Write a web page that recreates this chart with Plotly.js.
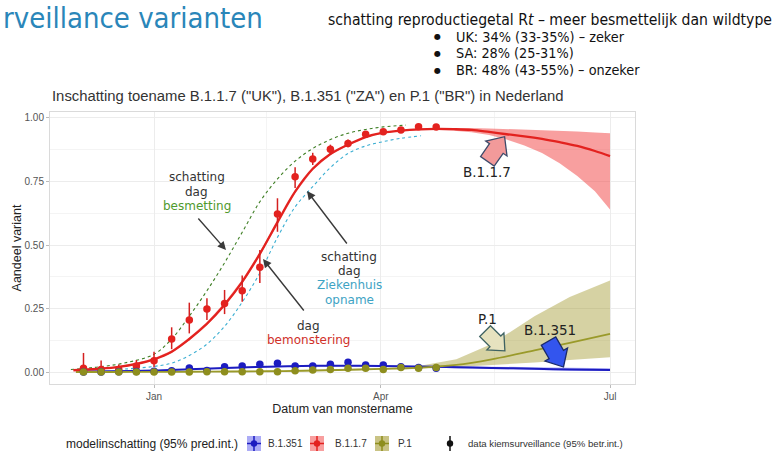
<!DOCTYPE html>
<html><head><meta charset="utf-8">
<script src="https://cdn.plot.ly/plotly-3.0.1.min.js"></script>
<style>html,body{margin:0;padding:0;background:#fff;}#chart{width:774px;height:457px;}</style>
</head><body><div id="chart"></div>
<script>
// ---- observed weekly data (kiemsurveillance) ----
const sampleDates = ['2020-12-04','2020-12-11','2020-12-18','2020-12-25','2021-01-01','2021-01-08','2021-01-15','2021-01-22','2021-01-29','2021-02-05','2021-02-12','2021-02-19','2021-02-26','2021-03-05','2021-03-12','2021-03-19','2021-03-26','2021-04-02','2021-04-09','2021-04-16','2021-04-23'];
const b117Obs = [0.015,0.010,0.010,0.024,0.044,0.130,0.205,0.248,0.270,0.320,0.412,0.622,0.769,0.839,0.877,0.900,0.936,0.946,0.953,0.966,0.965];
const b117Hi  = [0.075,0.045,0.030,0.047,0.080,0.176,0.273,0.290,0.323,0.380,0.480,0.684,0.806,0.863,0.895,0.915,0.945,0.955,0.962,0.972,0.972];
const b117Lo  = [0.000,0.000,0.000,0.010,0.020,0.090,0.152,0.205,0.228,0.277,0.350,0.552,0.724,0.815,0.855,0.885,0.925,0.937,0.944,0.958,0.957];
const b1351Obs = [0.000,0.000,0.001,0.002,0.003,0.005,0.016,0.006,0.021,0.024,0.031,0.034,0.024,0.024,0.031,0.038,0.028,0.028,0.021,0.018,0.015];
const b1351Hi  = [0.004,0.004,0.005,0.006,0.007,0.009,0.022,0.010,0.026,0.029,0.036,0.039,0.028,0.028,0.035,0.042,0.031,0.031,0.024,0.021,0.018];
const b1351Lo  = [0.000,0.000,0.000,0.000,0.000,0.002,0.011,0.003,0.016,0.019,0.026,0.029,0.020,0.020,0.027,0.034,0.025,0.025,0.018,0.015,0.012];
const p1Obs = [0,0,0,0,0,0,0,0.001,0.001,0.001,0.001,0.001,0.005,0.008,0.010,0.015,0.015,0.010,0.018,0.015,0.018];
const p1Hi  = [0.002,0.002,0.002,0.002,0.002,0.002,0.002,0.003,0.003,0.003,0.003,0.003,0.008,0.011,0.013,0.018,0.018,0.013,0.021,0.018,0.021];
const p1Lo  = [0,0,0,0,0,0,0,0,0,0,0,0,0.002,0.005,0.007,0.012,0.012,0.007,0.015,0.012,0.015];

// ---- model estimates (95% prediction interval) ----
const b117ModelDates = ['2020-11-30','2020-12-04','2020-12-11','2020-12-18','2020-12-25','2021-01-01','2021-01-08','2021-01-15','2021-01-22','2021-01-29','2021-02-05','2021-02-12','2021-02-19','2021-02-26','2021-03-05','2021-03-12','2021-03-19','2021-03-26','2021-04-02','2021-04-09','2021-04-16','2021-04-23','2021-04-30','2021-05-07','2021-05-14','2021-05-21','2021-05-28','2021-06-04','2021-06-11','2021-06-18','2021-06-25','2021-07-01'];
const b117Model   = [0.007,0.009,0.013,0.020,0.032,0.050,0.080,0.130,0.190,0.265,0.355,0.465,0.590,0.710,0.800,0.858,0.895,0.925,0.942,0.950,0.955,0.957,0.956,0.953,0.945,0.936,0.928,0.918,0.905,0.890,0.870,0.850];
const b117ModelHi = [0.009,0.011,0.015,0.023,0.035,0.054,0.085,0.136,0.197,0.273,0.363,0.473,0.597,0.716,0.805,0.862,0.898,0.927,0.944,0.952,0.958,0.961,0.962,0.961,0.959,0.957,0.955,0.952,0.950,0.947,0.943,0.940];
const b117ModelLo = [0.005,0.007,0.011,0.017,0.029,0.046,0.075,0.124,0.183,0.257,0.347,0.457,0.583,0.704,0.795,0.854,0.892,0.923,0.940,0.948,0.952,0.953,0.950,0.944,0.933,0.915,0.892,0.862,0.822,0.772,0.712,0.640];
const modelDates = ['2020-12-01','2020-12-15','2021-01-01','2021-01-15','2021-02-01','2021-02-15','2021-03-01','2021-03-15','2021-04-01','2021-04-15','2021-05-01','2021-05-15','2021-06-01','2021-06-15','2021-07-01'];
const b1351Model   = [0.002,0.003,0.006,0.011,0.017,0.021,0.024,0.025,0.024,0.022,0.019,0.016,0.013,0.010,0.008];
const b1351ModelHi = [0.003,0.005,0.008,0.013,0.019,0.023,0.026,0.027,0.026,0.025,0.023,0.021,0.019,0.017,0.015];
const b1351ModelLo = [0.001,0.002,0.004,0.009,0.015,0.019,0.022,0.023,0.022,0.019,0.015,0.011,0.008,0.005,0.004];
const p1Model   = [0.000,0.000,0.0005,0.001,0.002,0.003,0.005,0.008,0.012,0.016,0.028,0.050,0.085,0.115,0.150];
const p1ModelHi = [0.000,0.0005,0.001,0.002,0.003,0.005,0.007,0.010,0.015,0.022,0.050,0.110,0.220,0.295,0.360];
const p1ModelLo = [0.000,0.000,0.000,0.0005,0.001,0.002,0.003,0.006,0.009,0.012,0.020,0.027,0.037,0.047,0.058];

// ---- shifted B.1.1.7 curves: infection day / hospital admission day ----
const infectDates = ['2020-11-29','2020-12-10','2020-12-20','2021-01-01','2021-01-08','2021-01-15','2021-01-22','2021-01-29','2021-02-05','2021-02-12','2021-02-19','2021-02-26','2021-03-05','2021-03-12','2021-03-19','2021-03-26','2021-04-02','2021-04-11'];
const infectCurve = [0.010,0.020,0.035,0.070,0.130,0.220,0.320,0.430,0.550,0.670,0.760,0.830,0.880,0.915,0.940,0.955,0.965,0.972];
const hospDates = ['2020-12-18','2020-12-25','2021-01-01','2021-01-08','2021-01-15','2021-01-22','2021-01-29','2021-02-05','2021-02-12','2021-02-19','2021-02-26','2021-03-05','2021-03-12','2021-03-19','2021-03-26','2021-04-02','2021-04-09','2021-04-17'];
const hospCurve = [0.010,0.015,0.022,0.035,0.065,0.110,0.180,0.275,0.390,0.530,0.650,0.730,0.805,0.860,0.890,0.907,0.920,0.930];

const xTickVals = ['2021-01-01','2021-04-01','2021-07-01'];
const xTickText = ['Jan','Apr','Jul'];
const xMinorVals = ['2021-02-14 12:00','2021-05-16'];
const yTickVals = [0,0.25,0.5,0.75,1];
const yTickText = ['0.00','0.25','0.50','0.75','1.00'];
const yMinorVals = [0.125,0.375,0.625,0.875];

// ---- pixel -> paper helpers (plot area 50..635 x 112..384) ----
const PX = px => (px-50)/585;
const PY = py => (384-py)/272;

const C = {
  red:'#e3221f', redBand:'rgba(242,80,80,0.55)', redErr:'#d42020',
  blue:'#1c1cc0', blueBand:'rgba(70,70,235,0.45)',
  olive:'#8e8e1e', oliveLine:'#9a9a2a', oliveBand:'rgba(165,155,50,0.45)',
  green:'#3f7f25', cyan:'#3aaed2'
};

function band(x, lo, hi, fill){
  return [
    {x:x, y:lo, mode:'lines', line:{width:0}, hoverinfo:'skip', showlegend:false},
    {x:x, y:hi, mode:'lines', line:{width:0}, fill:'tonexty', fillcolor:fill, hoverinfo:'skip', showlegend:false}
  ];
}
function obs(y, hi, lo, color, ecolor){
  return {x:sampleDates, y:y, mode:'markers', showlegend:false,
    marker:{color:color, size:7.5},
    error_y:{type:'data', symmetric:false, array:hi.map((v,i)=>v-y[i]), arrayminus:y.map((v,i)=>v-lo[i]), width:0, thickness:1.5, color:ecolor}};
}

const traces = [
  ...band(b117ModelDates, b117ModelLo, b117ModelHi, C.redBand),
  ...band(modelDates, b1351ModelLo, b1351ModelHi, C.blueBand),
  ...band(modelDates, p1ModelLo, p1ModelHi, C.oliveBand),
  {x:infectDates, y:infectCurve, mode:'lines', line:{color:C.green, width:1.1, dash:'3px,3px', shape:'spline'}, showlegend:false},
  {x:hospDates, y:hospCurve, mode:'lines', line:{color:C.cyan, width:1.1, dash:'3px,3px', shape:'spline'}, showlegend:false},
  {x:modelDates, y:b1351Model, mode:'lines', line:{color:C.blue, width:2, shape:'spline'}, showlegend:false},
  {x:modelDates, y:p1Model, mode:'lines', line:{color:C.oliveLine, width:1.8, shape:'spline'}, showlegend:false},
  {x:b117ModelDates, y:b117Model, mode:'lines', line:{color:C.red, width:2.3, shape:'spline'}, showlegend:false},
  obs(b117Obs, b117Hi, b117Lo, C.red, C.redErr),
  obs(b1351Obs, b1351Hi, b1351Lo, C.blue, C.blue),
  obs(p1Obs, p1Hi, p1Lo, C.olive, C.olive)
];

function blockArrow(cx, cy, L, W, ang, fill, line){
  const hs=W*0.32, hh=W*0.5, hl=L*0.48;
  const pts=[[-L/2,-hs],[L/2-hl,-hs],[L/2-hl,-hh],[L/2,0],[L/2-hl,hh],[L/2-hl,hs],[-L/2,hs]];
  const a=ang*Math.PI/180, c=Math.cos(a), s=Math.sin(a);
  const path=pts.map((p,i)=>{const x=cx+p[0]*c-p[1]*s, y=cy+p[0]*s+p[1]*c; return (i?'L':'M')+PX(x).toFixed(4)+','+PY(y).toFixed(4);}).join('')+'Z';
  return {type:'path', xref:'paper', yref:'paper', path:path, fillcolor:fill, line:{color:line,width:1.3}, layer:'above'};
}

const shapes = [
  blockArrow(496,149,30,26,-55,'#f29a9a','#3d4a6a'),
  blockArrow(495,341,28,24,45,'#e6e2bf','#3e6262'),
  blockArrow(556,354,30,26,60,'#3355ee','#1a2a6a')
];
// manual legend glyphs
function legendGlyph(x0, fill, col, withBox){
  const g=[];
  if(withBox) g.push({type:'rect', xref:'paper', yref:'paper', x0:PX(x0), x1:PX(x0+14), y0:PY(451), y1:PY(436), fillcolor:fill, line:{width:0}});
  if(withBox) g.push({type:'line', xref:'paper', yref:'paper', x0:PX(x0), x1:PX(x0+14), y0:PY(443.5), y1:PY(443.5), line:{color:col,width:1.5}});
  g.push({type:'line', xref:'paper', yref:'paper', x0:PX(x0+7), x1:PX(x0+7), y0:PY(451), y1:PY(436), line:{color:col,width:1.5}});
  g.push({type:'circle', xref:'paper', yref:'paper', x0:PX(x0+3.8), x1:PX(x0+10.2), y0:PY(446.7), y1:PY(440.3), fillcolor:col, line:{width:0}});
  return g;
}
shapes.push(...legendGlyph(247, C.blueBand, C.blue, true));
shapes.push(...legendGlyph(310, C.redBand, C.red, true));
shapes.push(...legendGlyph(375, 'rgba(165,155,50,0.6)', C.olive, true));
shapes.push(...legendGlyph(443, null, '#111', false));

const AF = 'DejaVu Sans, Verdana, sans-serif';
const LF = 'Liberation Sans, Arial, sans-serif';
const CF = 'DejaVu Sans Condensed, DejaVu Sans, sans-serif';
function txt(x, y, text, size, color, anchor, family){
  return {xref:'paper', yref:'paper', x:PX(x), y:PY(y), text:text, showarrow:false, xanchor:anchor||'center', yanchor:'middle',
    font:{family:family||AF, size:size, color:color}};
}
function arrow(x0,y0,x1,y1){
  return {xref:'paper', yref:'paper', x:PX(x1), y:PY(y1), ax:x0-x1, ay:y0-y1, axref:'pixel', ayref:'pixel', text:'', showarrow:true,
    arrowhead:2, arrowsize:1.2, arrowwidth:1.4, arrowcolor:'#3a3a3a', standoff:0, startstandoff:0};
}

const annotations = [
  txt(1, 17.5, 'rveillance varianten', 29, '#2a86b9', 'left', CF),
  txt(326, 20, 'schatting reproductiegetal R<i>t</i> – meer besmettelijk dan wildtype', 15.6, '#111', 'left', CF),
  txt(437.5, 36.5, '●', 8, '#111'), txt(437.5, 53.3, '●', 8, '#111'), txt(437.5, 70, '●', 8, '#111'),
  txt(454, 36.5, 'UK: 34% (33-35%) – zeker', 14.3, '#111', 'left', CF),
  txt(454, 53.3, 'SA: 28% (25-31%)', 14.3, '#111', 'left', CF),
  txt(454, 70, 'BR: 48% (43-55%) – onzeker', 14.3, '#111', 'left', CF),
  // callouts
  txt(196.5, 177, 'schatting', 12, '#333'), txt(196.5, 191.5, 'dag', 12, '#333'), txt(196.5, 205.5, 'besmetting', 12, '#4f9a2e'),
  txt(349, 256.5, 'schatting', 12, '#333'), txt(349, 271, 'dag', 12, '#333'), txt(349, 285, 'Ziekenhuis', 12, '#3ea3c4'), txt(349, 299.5, 'opname', 12, '#3ea3c4'),
  txt(308.5, 326, 'dag', 12, '#333'), txt(308.5, 340, 'bemonstering', 12, '#d0302a'),
  arrow(197,217,226,250), arrow(348,245,307,191), arrow(305,312,263,259),
  txt(487, 172, 'B.1.1.7', 13.5, '#222'),
  txt(487.5, 318.5, 'P.1', 13.5, '#222'),
  txt(550, 330, 'B.1.351', 13.5, '#222'),
  // legend texts
  txt(64, 443.5, 'modelinschatting (95% pred.int.)', 12, '#222', 'left', LF),
  txt(266, 443.5, 'B.1.351', 10, '#333', 'left', LF),
  txt(333, 443.5, 'B.1.1.7', 10, '#333', 'left', LF),
  txt(396, 443.5, 'P.1', 10, '#333', 'left', LF),
  txt(466, 443.5, 'data kiemsurveillance (95% betr.int.)', 9.6, '#333', 'left', LF)
];

const layout = {
  width:774, height:457,
  margin:{l:50, r:139, t:112, b:73, pad:0},
  paper_bgcolor:'#fff', plot_bgcolor:'#fff',
  showlegend:false,
  font:{family:LF, color:'#333'},
  title:{text:'Inschatting toename B.1.1.7 ("UK"), B.1.351 ("ZA") en P.1 ("BR") in Nederland', x:52/774, xanchor:'left', xref:'container',
    y:1-96/457, yanchor:'middle', yref:'container', font:{family:LF, size:14.85, color:'#333'}},
  xaxis:{type:'date', range:['2020-11-20 17:00','2021-07-10 22:00'], tickmode:'array', tickvals:xTickVals, ticktext:xTickText,
    tickfont:{size:10, color:'#555'}, ticks:'outside', ticklen:3, tickcolor:'#bbb',
    showgrid:true, gridcolor:'#ececec', gridwidth:1, zeroline:false, showline:true, mirror:true, linecolor:'#dadada', linewidth:1,
    minor:{tickmode:'array', tickvals:xMinorVals, showgrid:true, gridcolor:'#f4f4f4', gridwidth:1, ticks:''},
    title:{text:'Datum van monstername', font:{size:12.5, color:'#222'}, standoff:2}, fixedrange:true},
  yaxis:{range:[-0.0472,1.0236], tickmode:'array', tickvals:yTickVals, ticktext:yTickText,
    tickfont:{size:10, color:'#555'}, ticks:'outside', ticklen:3, tickcolor:'#bbb',
    showgrid:true, gridcolor:'#ececec', gridwidth:1, zeroline:false, showline:true, mirror:true, linecolor:'#dadada', linewidth:1,
    minor:{tickmode:'array', tickvals:yMinorVals, showgrid:true, gridcolor:'#f4f4f4', gridwidth:1, ticks:''},
    title:{text:'Aandeel variant', font:{size:12.5, color:'#222'}, standoff:0}, fixedrange:true},
  shapes:shapes,
  annotations:annotations
};
Plotly.newPlot('chart', traces, layout, {displayModeBar:false, staticPlot:true});
</script></body></html>
